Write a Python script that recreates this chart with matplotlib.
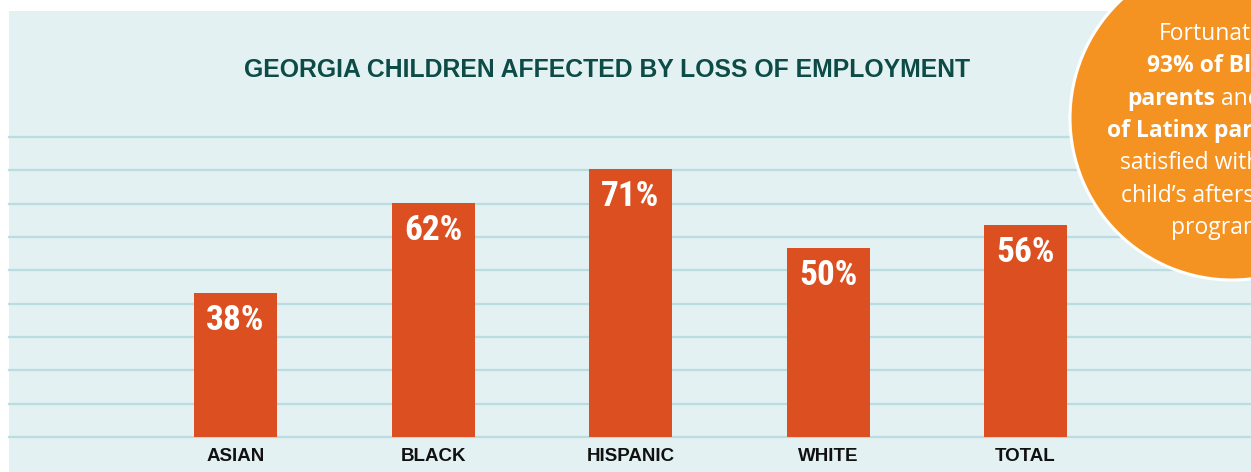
import numpy as np
import matplotlib.pyplot as plt
from matplotlib.patches import Circle

# --------------------------------
# DATA
# --------------------------------
categories = ["ASIAN", "BLACK", "HISPANIC", "WHITE", "TOTAL"]
values = [38, 62, 71, 50, 56]
value_labels = ["38%", "62%", "71%", "50%", "56%"]

title = "GEORGIA CHILDREN AFFECTED BY LOSS OF EMPLOYMENT"

# callout lines: list of (text, bold) pieces
callout = [
    [("Fortunately,", False)],
    [("93% of Black", True)],
    [("parents", True), (" and 94%", False)],
    [("of Latinx parents", True), (" are", False)],
    [("satisfied with their", False)],
    [("child\u2019s afterschool", False)],
    [("program.", False)],
]
callout_x = [1159, 1147, 1127, 1107, 1120, 1121, 1171]

# --------------------------------
# STYLE
# --------------------------------
W, H = 1251, 472
BG = "#e3f1f2"
GRID = "#b9dde0"
BAR = "#db4f20"
ORANGE = "#f59322"
TITLE_C = "#0c4b46"
COND = ["Roboto Condensed", "Oswald", "DejaVu Sans"]
ROUND = ["Open Sans", "Liberation Sans", "DejaVu Sans"]
SANS = ["Liberation Sans", "DejaVu Sans"]

fig = plt.figure(figsize=(W / 100, H / 100), dpi=100)
fig.patch.set_facecolor("white")

# light panel
bg = fig.add_axes([9 / W, 0, 1 - 9 / W, (H - 11) / H], zorder=0)
bg.set_facecolor(BG)
bg.set_xticks([])
bg.set_yticks([])
for s in bg.spines.values():
    s.set_visible(False)

# --------------------------------
# BAR CHART
# --------------------------------
base_px, top_px = 437, 137
step_px = 197.5
x0_px = 235.5
ax = fig.add_axes([9 / W, (H - base_px) / H, (W - 9) / W, (base_px - top_px) / H],
                  zorder=1)
ax.set_facecolor("none")
px_per_pct = 3.78
ymax = (base_px - top_px) / px_per_pct
ax.set_ylim(0, ymax)
ax.set_xlim((9 - x0_px) / step_px, (W - x0_px) / step_px)

for y in np.linspace(0, ymax, 10):
    ax.axhline(y, color=GRID, lw=1.6, zorder=1, clip_on=False)

x = np.arange(len(categories))
ax.bar(x, values, width=83 / step_px, color=BAR, zorder=2)

for xi, v, lab in zip(x, values, value_labels):
    ax.annotate(lab, (xi, v), xytext=(0, -8), textcoords="offset points",
                ha="center", va="top", color="white", fontsize=25.5,
                family=COND, fontweight="bold", zorder=3)

for xi, c in zip(x, categories):
    ax.annotate(c, (xi, 0), xytext=(0, -14), textcoords="offset points",
                ha="center", va="center", color="#111111", fontsize=13.5,
                family=SANS, fontweight="bold")

ax.axis("off")

# title
fig.text(607 / W, (H - 70) / H, title, ha="center", va="center",
         color=TITLE_C, fontsize=17.8, fontweight="bold", family=SANS,
         zorder=2)

# --------------------------------
# ORANGE CALLOUT
# --------------------------------
ov = fig.add_axes([0, 0, 1, 1], zorder=5)
ov.set_xlim(0, W)
ov.set_ylim(H, 0)
ov.axis("off")
ov.add_patch(Circle((1232, 118), 162, facecolor=ORANGE, edgecolor="white",
                    lw=2.2, clip_on=False))

for i, (pieces, xs) in enumerate(zip(callout, callout_x)):
    y = 34 + i * 32.3
    prev = None
    for txt, bold in pieces:
        kw = dict(color="white", fontsize=16.5, family=ROUND,
                  fontweight="bold" if bold else "normal", ha="left",
                  clip_on=True)
        if prev is None:
            prev = ov.text(xs, y, txt, va="center", **kw)
        else:
            prev = ov.annotate(txt, xy=(1, 0), xycoords=prev, va="bottom",
                               **kw)

fig.savefig("out.png", dpi=100)
